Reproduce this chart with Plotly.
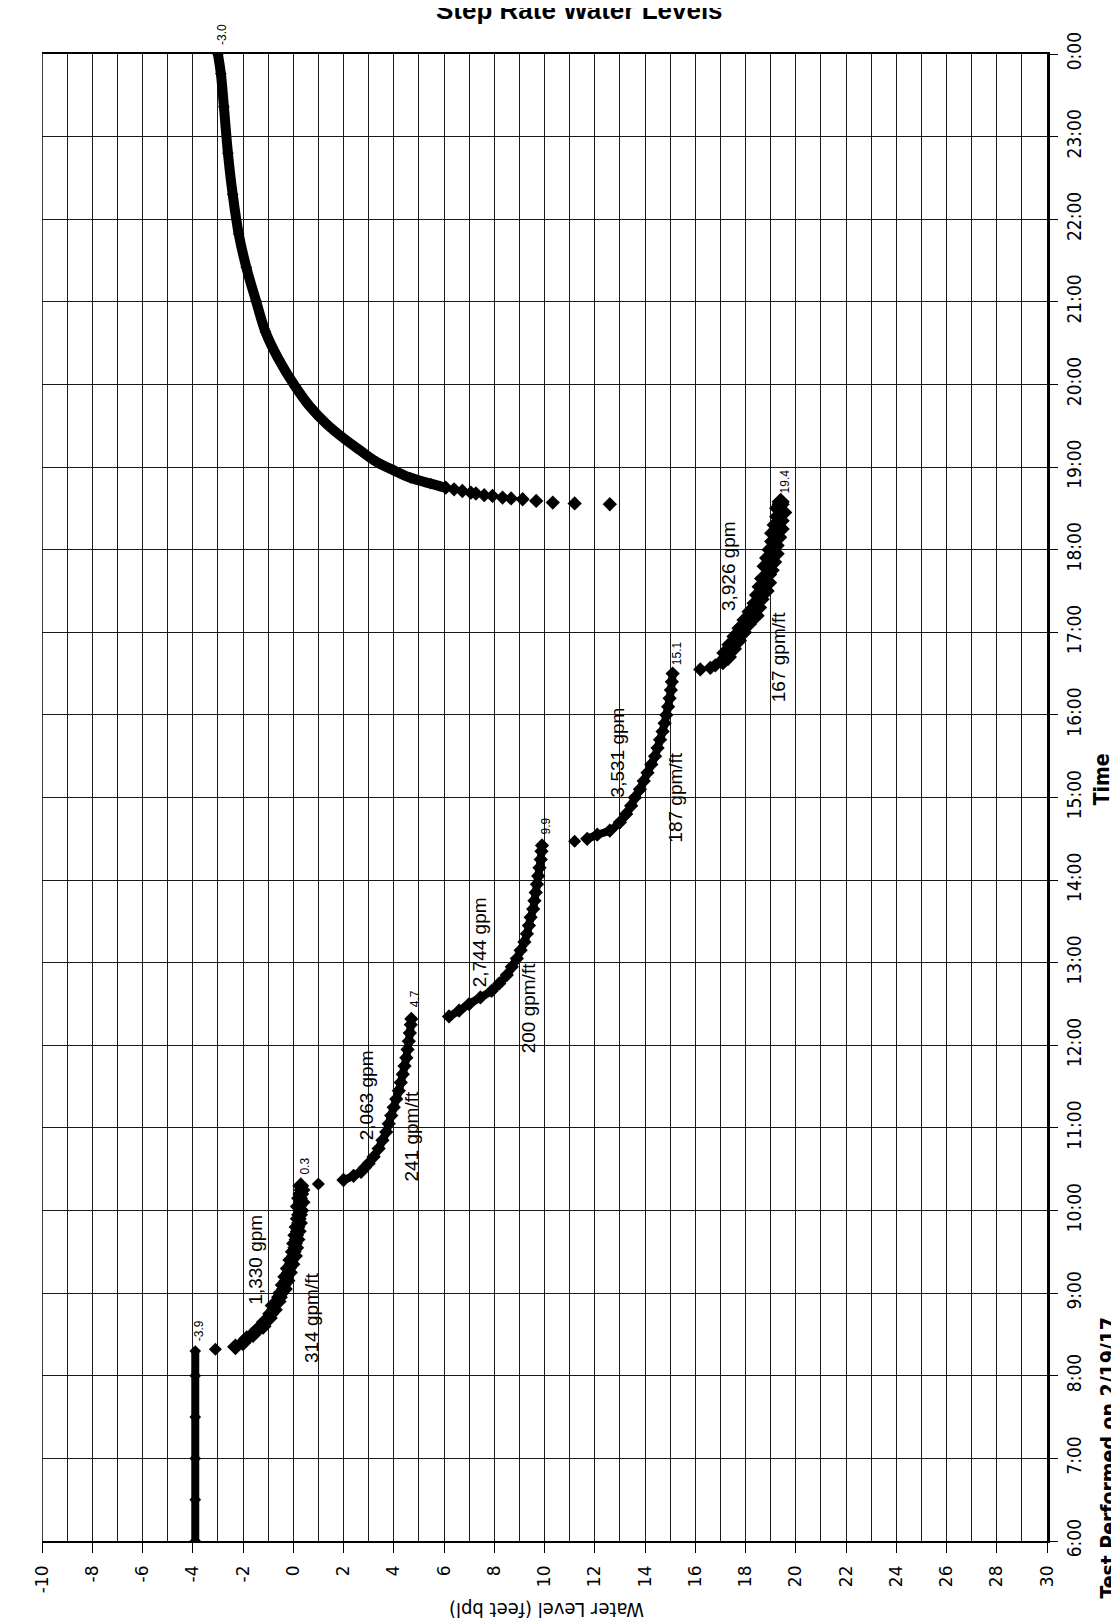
import plotly.graph_objects as go

# ---------------- data (time in decimal hours, water level in feet bpl) ----------------
static_time = [6.0, 6.5, 7.0, 7.5, 8.0, 8.3]
static_level = [-3.9, -3.9, -3.9, -3.9, -3.9, -3.9]

gap1_time = [8.32]
gap1_level = [-3.1]

step1_time = [8.35, 8.4, 8.45, 8.5, 8.55, 8.6, 8.65, 8.7, 8.75, 8.8, 8.85, 8.9, 8.95, 9.0,
              9.05, 9.1, 9.15, 9.2, 9.25, 9.3, 9.35, 9.4, 9.45, 9.5, 9.55, 9.6, 9.65, 9.7,
              9.75, 9.8, 9.85, 9.9, 9.95, 10.0, 10.05, 10.1, 10.15, 10.2, 10.25, 10.3]
step1_level = [-2.3, -2.0, -1.85, -1.6, -1.45, -1.2, -1.15, -0.95, -0.9, -0.75, -0.8, -0.6,
               -0.55, -0.5, -0.35, -0.4, -0.25, -0.3, -0.15, -0.2, -0.05, -0.1, 0.05, 0.0,
               0.1, 0.05, 0.15, 0.1, 0.2, 0.15, 0.25, 0.2, 0.25, 0.3, 0.2, 0.35, 0.25, 0.3,
               0.35, 0.3]

gap2_time = [10.32]
gap2_level = [1.0]

step2_time = [10.37, 10.42, 10.47, 10.52, 10.57, 10.65, 10.75, 10.85, 10.95, 11.05, 11.15,
              11.25, 11.35, 11.45, 11.55, 11.65, 11.75, 11.85, 11.95, 12.05, 12.15, 12.25, 12.32]
step2_level = [2.0, 2.4, 2.7, 2.85, 3.0, 3.2, 3.4, 3.55, 3.7, 3.8, 3.9, 4.0, 4.1, 4.2, 4.28,
               4.36, 4.43, 4.5, 4.55, 4.6, 4.64, 4.68, 4.7]

step3_time = [12.35, 12.42, 12.5, 12.58, 12.66, 12.75, 12.85, 12.95, 13.05, 13.15, 13.25,
              13.35, 13.45, 13.55, 13.65, 13.75, 13.85, 13.95, 14.05, 14.15, 14.25, 14.35, 14.42]
step3_level = [6.2, 6.6, 7.0, 7.45, 7.9, 8.2, 8.5, 8.7, 8.9, 9.05, 9.2, 9.3, 9.38, 9.45,
               9.55, 9.6, 9.65, 9.7, 9.75, 9.8, 9.85, 9.88, 9.9]

gap4_time = [14.47]
gap4_level = [11.2]

step4_time = [14.5, 14.55, 14.6, 14.7, 14.8, 14.9, 15.0, 15.1, 15.2, 15.3, 15.4, 15.5, 15.6,
              15.7, 15.8, 15.9, 16.0, 16.1, 16.2, 16.3, 16.4, 16.5]
step4_level = [11.7, 12.1, 12.6, 13.0, 13.25, 13.45, 13.6, 13.8, 13.95, 14.1, 14.25, 14.4,
               14.5, 14.6, 14.7, 14.78, 14.85, 14.92, 14.98, 15.03, 15.07, 15.1]

gap5_time = [16.55, 16.57, 16.6]
gap5_level = [16.2, 16.6, 16.8]

step5_time = [16.65, 16.7, 16.75, 16.8, 16.85, 16.9, 16.95, 17.0, 17.05, 17.1, 17.15, 17.2,
              17.25, 17.3, 17.35, 17.4, 17.45, 17.5, 17.55, 17.6, 17.65, 17.7, 17.75, 17.8,
              17.85, 17.9, 17.95, 18.0, 18.05, 18.1, 18.15, 18.2, 18.25, 18.3, 18.35, 18.4,
              18.45, 18.5, 18.55, 18.58]
step5_level = [17.1, 17.3, 17.2, 17.5, 17.4, 17.7, 17.6, 17.9, 17.8, 18.1, 18.0, 18.4, 18.2,
               18.5, 18.4, 18.6, 18.5, 18.8, 18.6, 18.9, 18.7, 18.9, 19.0, 18.8, 19.1, 18.9,
               19.2, 19.0, 19.2, 19.1, 19.3, 19.1, 19.4, 19.2, 19.4, 19.3, 19.5, 19.3, 19.4, 19.4]

tail_time = [18.55, 18.56, 18.57, 18.59, 18.61, 18.62, 18.63, 18.65, 18.66, 18.68, 18.69,
             18.71, 18.73, 18.75]
tail_level = [12.6, 11.2, 10.33, 9.67, 9.13, 8.67, 8.33, 7.93, 7.6, 7.27, 7.07, 6.73, 6.4, 6.07]

recovery_time = [18.75, 18.8, 18.87, 18.96, 19.06, 19.2, 19.35, 19.52, 19.73, 19.98, 20.31,
                 20.64, 21.01, 21.42, 21.82, 22.3, 22.8, 23.36, 23.76, 24.0]
recovery_level = [6.07, 5.47, 4.67, 4.0, 3.33, 2.67, 2.0, 1.33, 0.67, 0.07, -0.59, -1.11,
                  -1.48, -1.87, -2.17, -2.41, -2.6, -2.76, -2.88, -3.0]

rate_labels = ["1,330 gpm", "314 gpm/ft", "2,063 gpm", "241 gpm/ft", "2,744 gpm",
               "200 gpm/ft", "3,531 gpm", "187 gpm/ft", "3,926 gpm", "167 gpm/ft"]
rate_label_level = [-1.5, 0.75, 2.95, 4.7, 7.4, 9.35, 12.9, 15.2, 17.3, 19.3]
rate_label_time = [9.4, 8.7, 11.4, 10.9, 13.25, 12.45, 15.55, 15.0, 17.8, 16.7]

level_ticks = list(range(-10, 31, 2))
time_ticks = list(range(6, 25))
time_tick_text = [f"{h % 24}:00" for h in time_ticks]

# ---------------- figure ----------------
fig = go.Figure()


def dense(times, levels, lw, ms, shape="linear"):
    fig.add_trace(go.Scatter(
        x=levels, y=times, mode="lines+markers",
        line=dict(color="black", width=lw, shape=shape),
        marker=dict(symbol="diamond", size=ms, color="black"),
        showlegend=False, hoverinfo="skip"))


def sparse(times, levels, ms):
    fig.add_trace(go.Scatter(
        x=levels, y=times, mode="markers",
        marker=dict(symbol="diamond", size=ms, color="black"),
        showlegend=False, hoverinfo="skip"))


dense(static_time, static_level, 8, 9)
sparse(gap1_time, gap1_level, 10)
dense(step1_time, step1_level, 8, 13)
sparse(gap2_time, gap2_level, 10)
dense(step2_time, step2_level, 8, 11, "spline")
dense(step3_time, step3_level, 8, 11, "spline")
sparse(gap4_time, gap4_level, 10)
dense(step4_time, step4_level, 8, 11, "spline")
sparse(gap5_time, gap5_level, 11)
dense(step5_time, step5_level, 8, 14)
sparse(tail_time, tail_level, 11)
dense(recovery_time, recovery_level, 10, 9, "spline")

annotations = []
# end-of-step value labels
for t, l in [(static_time, static_level), (step1_time, step1_level), (step2_time, step2_level),
             (step3_time, step3_level), (step4_time, step4_level), (step5_time, step5_level),
             (recovery_time, recovery_level)]:
    annotations.append(dict(
        x=l[-1], y=t[-1], xref="x", yref="y", text=f"{l[-1]:.1f}", showarrow=False,
        textangle=-90, xanchor="center", yanchor="middle", xshift=4, yshift=20,
        font=dict(family="Liberation Sans, Arial", size=12, color="black")))

for txt, lv, tm in zip(rate_labels, rate_label_level, rate_label_time):
    annotations.append(dict(
        x=lv, y=tm, xref="x", yref="y", text=txt, showarrow=False, textangle=-90,
        xanchor="center", yanchor="middle",
        font=dict(family="Liberation Sans, Arial", size=19, color="black")))

narrow = "Liberation Sans Narrow, DejaVu Sans Condensed, Arial Narrow, sans-serif"
annotations += [
    dict(x=1.0547, y=15.22, xref="paper", yref="y", text="<b>Time</b>", showarrow=False,
         textangle=-90, xanchor="center", yanchor="middle",
         font=dict(family=narrow, size=21, color="black")),
    dict(x=1.0617, y=7.0, xref="paper", yref="y", text="<b>Test Performed on 2/19/17</b>",
         showarrow=False, textangle=-90, xanchor="center", yanchor="middle",
         font=dict(family=narrow, size=21, color="black")),
    dict(x=10.1, y=-0.046, xref="x", yref="paper", text="Water Level (feet bpl)",
         showarrow=False, textangle=180, xanchor="center", yanchor="middle",
         font=dict(family=narrow, size=20, color="black")),
    dict(x=0.535, y=1.0, xref="paper", yref="paper", text="<b>Step Rate Water Levels</b>",
         showarrow=False, xanchor="center", yanchor="bottom", yshift=27,
         font=dict(family="Liberation Sans, Arial", size=26, color="black")),
]

grid_col = "#1a1a1a"
fig.update_layout(
    width=1119, height=1623,
    margin=dict(l=34, r=80, t=46, b=90),
    paper_bgcolor="white", plot_bgcolor="white",
    annotations=annotations,
    xaxis=dict(
        range=[-10, 30], tickmode="array", tickvals=level_ticks,
        ticktext=[str(v) for v in level_ticks], tickangle=-90,
        tickfont=dict(family="DejaVu Sans, Verdana", size=17, color="black"),
        showgrid=True, gridcolor=grid_col, gridwidth=1,
        minor=dict(tickmode="array", tickvals=list(range(-9, 30, 2)), showgrid=True,
                   gridcolor=grid_col, gridwidth=1, ticks=""),
        ticks="outside", ticklen=10, tickcolor="black", ticklabelstandoff=6,
        showline=True, linecolor="black", linewidth=1.5, mirror=True, zeroline=False),
    yaxis=dict(
        range=[6, 24], side="right", tickmode="array", tickvals=time_ticks,
        ticktext=time_tick_text, tickangle=-90,
        tickfont=dict(family=narrow, size=19, color="black"),
        showgrid=True, gridcolor=grid_col, gridwidth=1,
        ticks="outside", ticklen=8, tickcolor="black",
        showline=True, linecolor="black", linewidth=2.5, zeroline=False),
    shapes=[dict(type="line", xref="x", yref="paper", x0=-10, x1=-10, y0=0, y1=1,
                 line=dict(color="black", width=1.5))],
)

fig.write_html("out.html")
